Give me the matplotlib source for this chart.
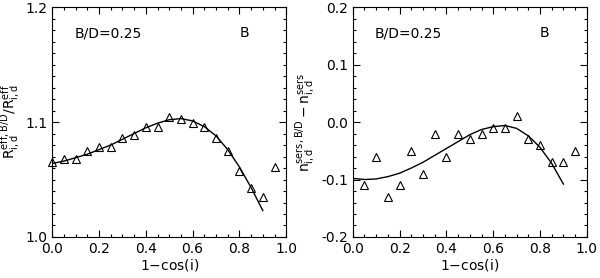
import numpy as np
from matplotlib import pyplot as plt
from matplotlib.ticker import MultipleLocator

x_pts = [0.0, 0.05, 0.1, 0.15, 0.2, 0.25, 0.3, 0.35, 0.4, 0.45, 0.5,
         0.55, 0.6, 0.65, 0.7, 0.75, 0.8, 0.85, 0.9, 0.95]
r_pts = [1.065, 1.068, 1.068, 1.075, 1.078, 1.078, 1.086, 1.089, 1.096, 1.096, 1.104,
         1.103, 1.099, 1.096, 1.086, 1.075, 1.057, 1.043, 1.035, 1.061]

x_fit_r = [0.0, 0.05, 0.1, 0.15, 0.2, 0.25, 0.3, 0.35, 0.4, 0.45, 0.5,
           0.55, 0.6, 0.65, 0.7, 0.75, 0.8, 0.85, 0.9]
r_fit = [1.064, 1.066, 1.069, 1.072, 1.076, 1.080, 1.085, 1.090, 1.095, 1.099, 1.102,
         1.103, 1.101, 1.096, 1.088, 1.076, 1.061, 1.043, 1.023]

xn_pts = [0.05, 0.1, 0.15, 0.2, 0.25, 0.3, 0.35, 0.4, 0.45, 0.5,
          0.55, 0.6, 0.65, 0.7, 0.75, 0.8, 0.85, 0.9, 0.95]
n_pts = [-0.11, -0.06, -0.13, -0.11, -0.05, -0.09, -0.02, -0.06, -0.02, -0.03,
         -0.02, -0.01, -0.01, 0.01, -0.03, -0.04, -0.07, -0.07, -0.05]

x_fit_n = [0.0, 0.05, 0.1, 0.15, 0.2, 0.25, 0.3, 0.35, 0.4, 0.45, 0.5,
           0.55, 0.6, 0.65, 0.7, 0.75, 0.8, 0.85, 0.9]
n_fit = [-0.098, -0.100, -0.099, -0.095, -0.089, -0.080, -0.070, -0.058, -0.046, -0.034, -0.022,
         -0.013, -0.008, -0.006, -0.011, -0.024, -0.044, -0.072, -0.108]

plt.rcParams['font.family'] = ['DejaVu Sans']
plt.rcParams['font.size'] = 10

fig = plt.figure(figsize=(6, 2.78), dpi=100)
ax1 = fig.add_axes([0.087, 0.1475, 0.39, 0.827])
ax2 = fig.add_axes([0.588, 0.1475, 0.39, 0.827])


def style(ax, ymaj, ymin):
    ax.set_xlim(0, 1)
    ax.xaxis.set_major_locator(MultipleLocator(0.2))
    ax.xaxis.set_minor_locator(MultipleLocator(0.05))
    ax.yaxis.set_major_locator(MultipleLocator(ymaj))
    ax.yaxis.set_minor_locator(MultipleLocator(ymin))
    ax.tick_params(which='both', direction='in', top=True, right=True, width=0.8)
    ax.tick_params(which='major', length=5)
    ax.tick_params(which='minor', length=2.5)
    ax.set_xlabel('1$-$cos(i)', labelpad=1)
    ax.xaxis.set_major_formatter(plt.FormatStrFormatter('%.1f'))
    ax.yaxis.set_major_formatter(plt.FormatStrFormatter('%.1f'))
    ax.text(0.094, 0.887, 'B/D=0.25', transform=ax.transAxes, va='center')
    ax.text(0.80, 0.887, 'B', transform=ax.transAxes, va='center')


ax1.plot(x_fit_r, r_fit, color='black', lw=1)
ax1.plot(x_pts, r_pts, '^', mfc='none', mec='black', ms=6, mew=0.8, clip_on=False)
ax1.set_ylim(1.0, 1.2)
style(ax1, 0.1, 0.01)
ax1.set_ylabel(r'$\mathrm{R}^{\mathrm{eff,B/D}}_{\mathrm{i,d}}/\mathrm{R}^{\mathrm{eff}}_{\mathrm{i,d}}$', labelpad=2)

ax2.plot(x_fit_n, n_fit, color='black', lw=1)
ax2.plot(xn_pts, n_pts, '^', mfc='none', mec='black', ms=6, mew=0.8, clip_on=False)
ax2.set_ylim(-0.2, 0.2)
style(ax2, 0.1, 0.02)
ax2.set_ylabel(r'$\mathrm{n}^{\mathrm{sers,B/D}}_{\mathrm{i,d}}-\mathrm{n}^{\mathrm{sers}}_{\mathrm{i,d}}$', labelpad=2)

fig.savefig('out.png', dpi=100)
